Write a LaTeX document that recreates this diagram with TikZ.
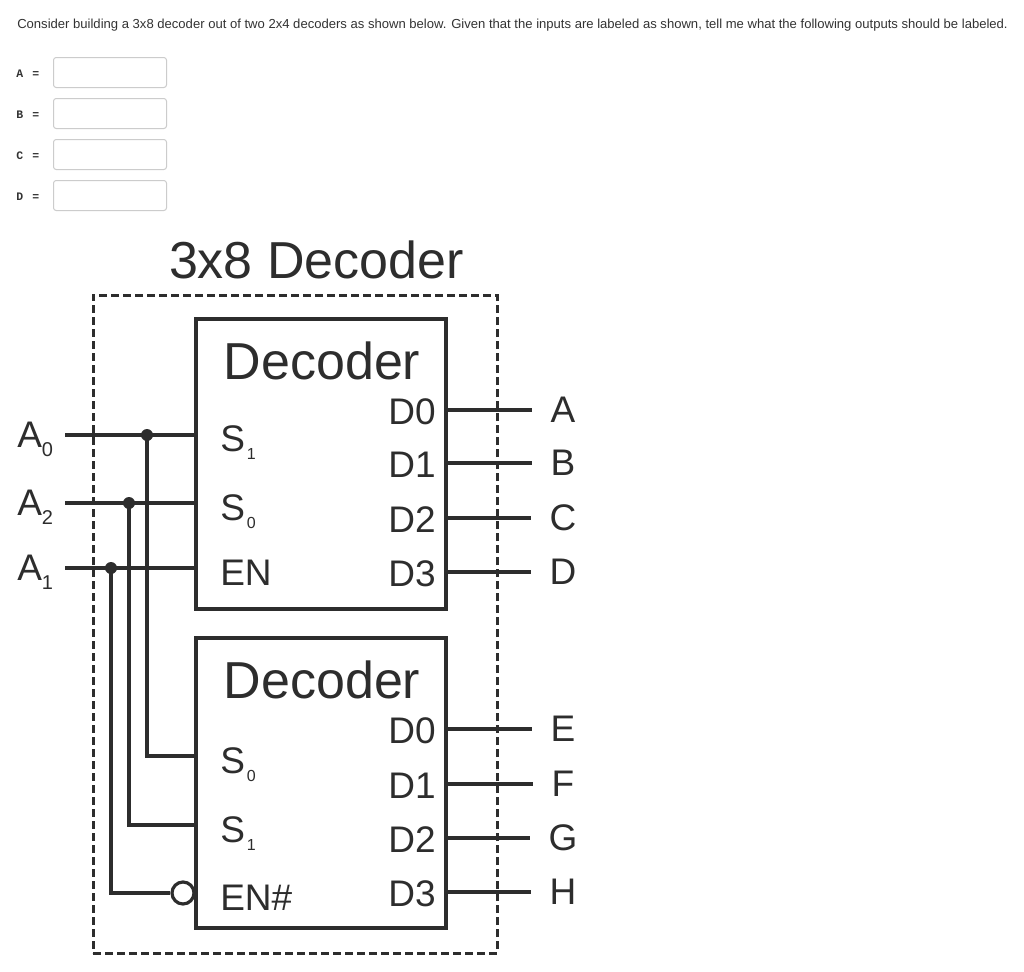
\documentclass[tikz,border=0pt]{standalone}
\usepackage{fontspec}
\setmainfont{Liberation Sans}
\newfontfamily\fieldfont{Liberation Mono}
\usetikzlibrary{positioning, calc}

\definecolor{ink}{HTML}{2D2D2D}
\definecolor{prose}{HTML}{333333}

\tikzset{
  wire/.style={draw=ink, line width=2.4pt},
  decoder/.style={draw=ink, line width=2.4pt, minimum width=187.5pt, minimum height=217.5pt, inner sep=0pt},
  pin/.style={font=\fontsize{27.75}{30}\selectfont, text=ink, inner sep=0pt},
  heading/.style={font=\fontsize{39}{42}\selectfont, text=ink, inner sep=0pt},
  junction/.style={circle, fill=ink, inner sep=0pt, minimum size=9pt},
  bubble/.style={circle, draw=ink, fill=white, line width=2.4pt, inner sep=0pt, minimum size=16.5pt},
  answer/.style={draw=black!20, rounded corners=2pt, line width=0.75pt, minimum width=84.75pt, minimum height=22.5pt, inner sep=0pt},
  fieldlabel/.style={font=\fieldfont\bfseries\fontsize{8.6}{10}\selectfont, text=prose, inner sep=0pt},
}
\newcommand\insub[1]{\raisebox{-7pt}{\fontsize{15}{16}\selectfont #1}}
\newcommand\pinsub[1]{\hspace{1.5pt}\raisebox{-6pt}{\fontsize{12}{13}\selectfont #1}}

\begin{document}
\begin{tikzpicture}[x=0.75pt, y=-0.75pt]
\useasboundingbox (0,0) rectangle (1024,971);
\fill[white] (0,0) rectangle (1024,971);

% Question and answer fields
\node[anchor=base west, font=\fontsize{9.8}{12}\selectfont, text=prose, inner sep=0pt] (question) at (17,28)
  {Consider building a 3x8 decoder out of two 2x4 decoders as shown below. Given that the inputs are labeled as shown, tell me what the following outputs should be labeled.};
\foreach \l/\y in {A/57, B/98, C/139, D/180} {
  \node[answer, anchor=north west] (field\l) at (53,\y) {};
  \node[fieldlabel, anchor=base west] (label\l) at (16,\y+20) {\l\hspace{7pt}=};
}

% Define nodes
\node[heading, anchor=base] (title) at (316.5,278) {3x8 Decoder};
\node[draw=ink, line width=2.25pt, dash pattern=on 6pt off 3pt, minimum width=303pt, minimum height=493.5pt, inner sep=0pt] (frame) at (295,624) {};

\node[decoder] (upper) at (321,464) {};
\node[decoder] (lower) at (321,783) {};
\node[heading, anchor=base] (upperName) at (322,379) {Decoder};
\node[heading, anchor=base] (lowerName) at (322,698) {Decoder};

\path[every node/.style={pin, anchor=base west}]
  (220,451) node (uS1) {S\pinsub{1}}
  (220,520) node (uS0) {S\pinsub{0}}
  (220,585) node (uEN) {EN}
  (220,773) node (lS0) {S\pinsub{0}}
  (220,842) node (lS1) {S\pinsub{1}}
  (220,910) node (lEN) {EN\#};

% Inputs
\path[every node/.style={pin, anchor=base west}]
  (17,447) node (inA0) {A\insub{0}}
  (17,515) node (inA2) {A\insub{2}}
  (17,580) node (inA1) {A\insub{1}};
\coordinate (w0) at (65,435);
\coordinate (w2) at (65,503);
\coordinate (w1) at (65,568);
\coordinate (pS0) at (196,756);
\coordinate (pS1) at (196,825);

\draw[wire] (w0) -- (w0 -| upper.west);
\draw[wire] (w2) -- (w2 -| upper.west);
\draw[wire] (w1) -- (w1 -| upper.west);

\node[junction] (j0) at (147,435) {};
\node[junction] (j2) at (129,503) {};
\node[junction] (j1) at (111,568) {};
\node[bubble] (enBar) at (183,893) {};

\draw[wire] (j0.center) |- (pS0);
\draw[wire] (j2.center) |- (pS1);
\draw[wire] (j1.center) |- (enBar.west);

% Outputs
\foreach \y/\d/\n in {410/0/A, 463/1/B, 518/2/C, 572/3/D, 729/0/E, 784/1/F, 838/2/G, 892/3/H} {
  \node[pin, anchor=base east] (pin\n) at (436,\y+14) {D\d};
  \node[pin] (out\n) at (563,\y) {\n};
  \draw[wire, shorten >=14pt] (upper.east |- out\n) -- (out\n.west);
}

\end{tikzpicture}
\end{document}
